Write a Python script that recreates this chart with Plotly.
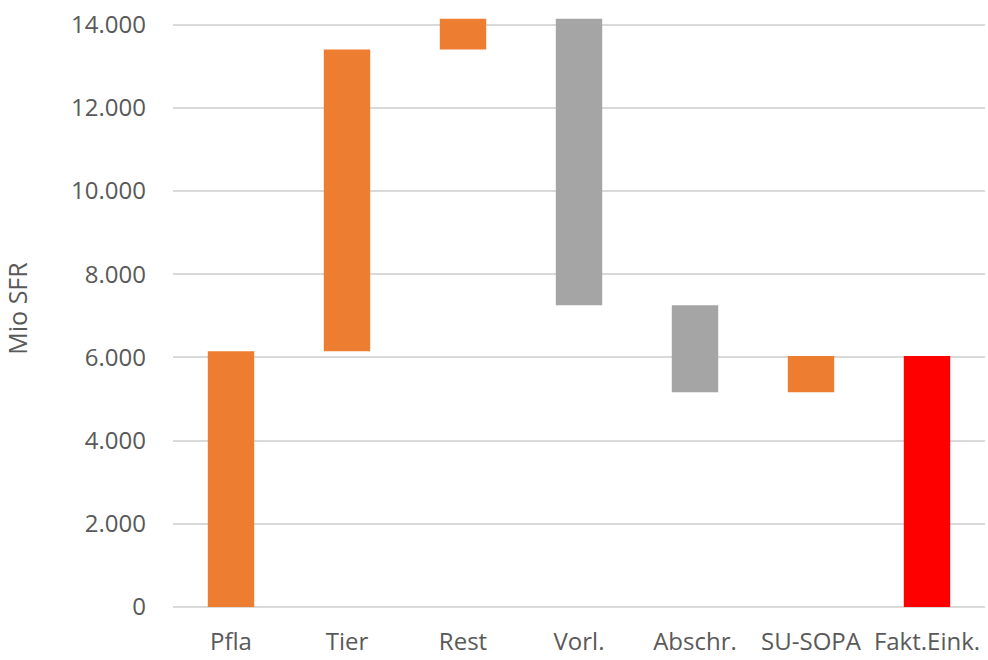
import plotly.graph_objects as go

categories = ["Pfla", "Tier", "Rest", "Vorl.", "Abschr.", "SU-SOPA", "Fakt.Eink."]
deltas = [6150, 7250, 742, -6887, -2095, 871]
colors = ["#ED7D31", "#ED7D31", "#ED7D31", "#A5A5A5", "#A5A5A5", "#ED7D31", "#FF0000"]
y_ticks = [0, 2000, 4000, 6000, 8000, 10000, 12000, 14000]

bases, heights = [], []
level = 0
for d in deltas:
    new = level + d
    bases.append(min(level, new))
    heights.append(abs(d))
    level = new
bases.append(0)
heights.append(level)

fig = go.Figure(go.Bar(
    x=categories, y=heights, base=bases,
    marker=dict(color=colors, line=dict(width=0)),
    width=0.4,
))

fig.update_layout(
    width=988, height=660,
    margin=dict(l=173, r=3, t=10, b=51),
    paper_bgcolor="white", plot_bgcolor="white",
    separators=",.",
    showlegend=False,
    font=dict(family="Open Sans", color="#595959", size=24),
    xaxis=dict(showgrid=False, showline=False, ticks="", ticklabelstandoff=18,
               tickfont=dict(size=24, color="#595959")),
    yaxis=dict(range=[0, 14350], tickvals=y_ticks, tickformat=",d",
               showgrid=True, gridcolor="#D9D9D9", gridwidth=1.5,
               zeroline=True, zerolinecolor="#D9D9D9", zerolinewidth=1.5,
               showline=False, ticks="", ticklabelstandoff=26,
               tickfont=dict(size=24, color="#595959"),
               title=dict(text="Mio SFR", font=dict(size=25, color="#595959"), standoff=36)),
)
fig.write_html("out.html", post_script="document.body.style.margin='0';",
               config={"displayModeBar": False})
